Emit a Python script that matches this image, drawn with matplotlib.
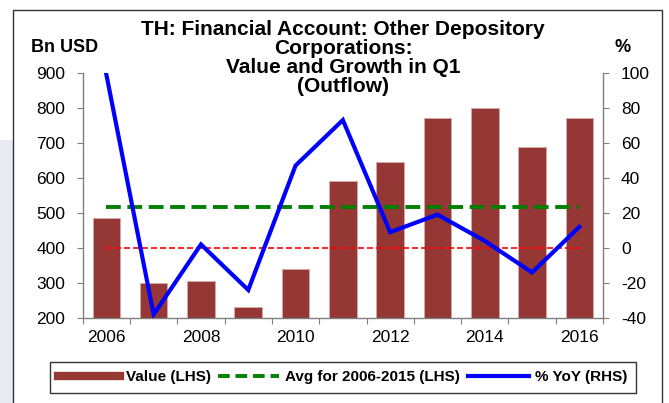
import matplotlib
matplotlib.use("Agg")
import matplotlib.pyplot as plt
from matplotlib.lines import Line2D
from matplotlib.patches import Rectangle
import numpy as np

plt.rcParams['font.family'] = ['Liberation Sans', 'DejaVu Sans']

years = [2006, 2007, 2008, 2009, 2010, 2011, 2012, 2013, 2014, 2015, 2016]
value_bn_usd = [485, 300, 306, 231, 340, 592, 644, 770, 800, 687, 770]
yoy_pct = [99, -38, 2, -24, 47, 73, 9, 19, 4, -14, 12]
avg_years = (2006, 2015)
left_ticks = [200, 300, 400, 500, 600, 700, 800, 900]
right_ticks = [-40, -20, 0, 20, 40, 60, 80, 100]
title_lines = ["TH: Financial Account: Other Depository", "Corporations:",
               "Value and Growth in Q1", "(Outflow)"]

W, H = 669, 403
fig = plt.figure(figsize=(W / 100, H / 100), dpi=100)

# background decorations
fig.patches.append(Rectangle((0, 0), 13 / W, 1 - 140 / H, transform=fig.transFigure,
                             facecolor='#e8ebf4', edgecolor='none', zorder=-5))
fig.patches.append(Rectangle((13 / W, -0.05), (662 - 13) / W, 1.05 - 10 / H,
                             transform=fig.transFigure, facecolor='white',
                             edgecolor='#333333', lw=1.0, zorder=-4))

ax = fig.add_axes([82.7 / W, 1 - 318 / H, (603 - 82.7) / W, (318 - 72.7) / H])
ax.set_facecolor('none')
x = np.arange(len(years))

ax.bar(x, value_bn_usd, bottom=0, width=0.585, color='#953735', edgecolor='#d9a8a8',
       linewidth=0.6, zorder=2)
mask = [(y >= avg_years[0]) and (y <= avg_years[1]) for y in years]
avg_val = float(np.mean([v for v, m in zip(value_bn_usd, mask) if m]))
ax.plot([x[0], x[-1]], [avg_val, avg_val], color='#008000', lw=2.8,
        dashes=(3.8, 1.7), zorder=3)

ax.set_ylim(200, 900)
ax.set_xlim(-0.5, len(years) - 0.5)
ax.set_yticks(left_ticks)
ax.set_yticklabels([str(t) for t in left_ticks])

ax2 = ax.twinx()
ax2.set_ylim(-40, 100)
ax2.set_yticks(right_ticks)
ax2.set_yticklabels([str(t) for t in right_ticks])
ax2.plot([x[0], x[-1]], [0, 0], color='#ff0000', lw=1.2, dashes=(3.6, 1.8), zorder=3)
ax2.plot(x, yoy_pct, color='#0000ff', lw=3.0, zorder=4, solid_joinstyle='miter')

# x ticks: marks at boundaries, labels every 2 years
ax.set_xticks(np.arange(-0.5, len(years), 1.0))
ax.set_xticklabels([])
ax.set_xticks(x[::2], minor=True)
ax.set_xticklabels([str(y) for y in years[::2]], minor=True)
ax.tick_params(axis='x', which='minor', length=0, pad=9, labelsize=12.5)
ax.tick_params(axis='x', which='major', length=4, direction='out', color='#7f7f7f')

spine_c = '#7f7f7f'
for a in (ax, ax2):
    a.spines['top'].set_visible(False)
    for s in ('left', 'right', 'bottom'):
        a.spines[s].set_color(spine_c)
        a.spines[s].set_linewidth(1.0)
ax.spines['right'].set_visible(False)
ax2.spines['left'].set_visible(False)
ax2.spines['bottom'].set_visible(False)
ax.tick_params(axis='y', length=4, direction='out', color=spine_c, labelsize=12.5, pad=8.5)
ax2.tick_params(axis='y', length=4, direction='out', color=spine_c, labelsize=12.5, pad=9)

baselines = [35, 54.2, 73.3, 92.5]
for line, b in zip(title_lines, baselines):
    fig.text(343 / W, 1 - b / H, line, ha='center', va='baseline', fontsize=15,
             fontweight='bold')
fig.text(65 / W, 1 - 52.3 / H, 'Bn USD', ha='center', va='baseline', fontsize=13,
         fontweight='bold')
fig.text(623 / W, 1 - 52.3 / H, '%', ha='center', va='baseline', fontsize=13,
         fontweight='bold')

handles = [Line2D([], [], color='#953735', lw=6),
           Line2D([], [], color='#008000', lw=2.8, dashes=(3, 1.5)),
           Line2D([], [], color='#0000ff', lw=3)]
labels = ['Value (LHS)', 'Avg for 2006-2015 (LHS)', '% YoY (RHS)']
leg = fig.legend(handles, labels, loc='center', bbox_to_anchor=(343 / W, 1 - 377.5 / H),
                 ncol=3, frameon=True, fancybox=False, edgecolor='#000000',
                 prop={'weight': 'bold', 'size': 11}, handlelength=4.0,
                 handletextpad=0.4, columnspacing=0.5, borderpad=0.55,
                 borderaxespad=0)
leg.get_frame().set_linewidth(1.0)

fig.savefig('out.png', dpi=100)
